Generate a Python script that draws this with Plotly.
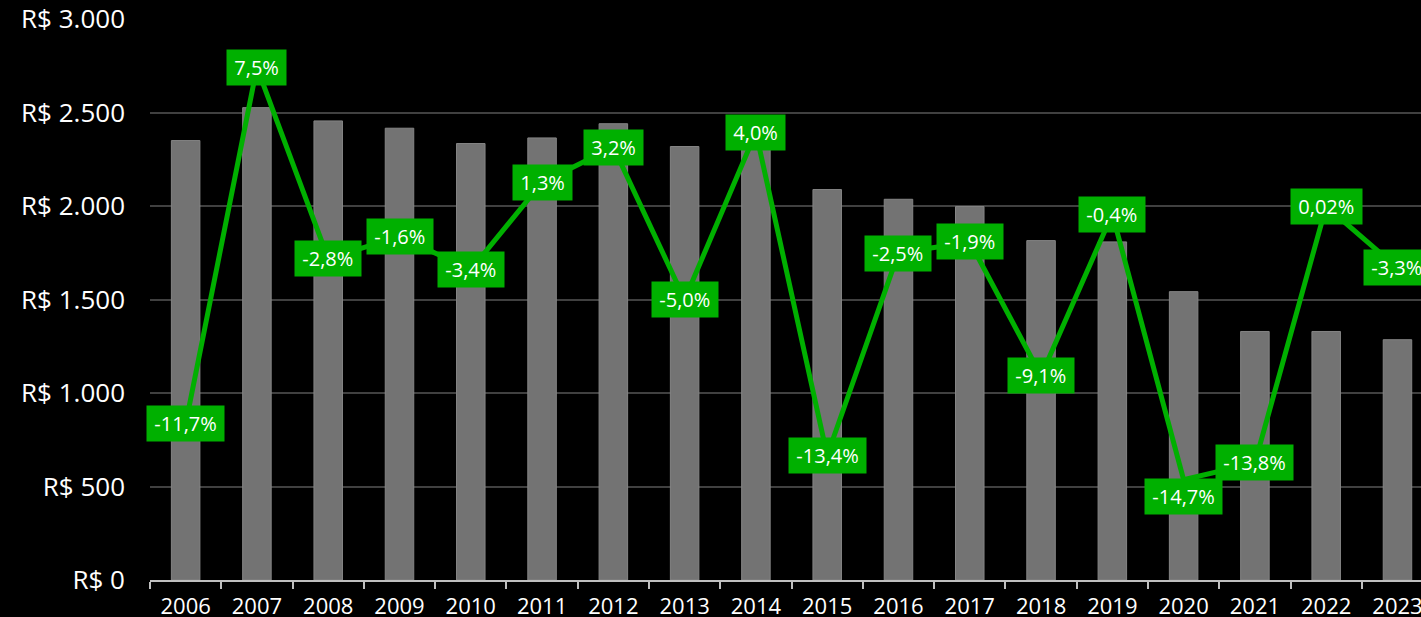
import plotly.graph_objects as go

anos = ['2006', '2007', '2008', '2009', '2010', '2011', '2012', '2013', '2014',
        '2015', '2016', '2017', '2018', '2019', '2020', '2021', '2022', '2023']
valores = [2350, 2526, 2455, 2416, 2334, 2364, 2440, 2318, 2411,
           2088, 2036, 1997, 1815, 1808, 1542, 1329, 1329, 1285]
variacao = [-11.7, 7.5, -2.8, -1.6, -3.4, 1.3, 3.2, -5.0, 4.0,
            -13.4, -2.5, -1.9, -9.1, -0.4, -14.7, -13.8, 0.02, -3.3]
rotulos = ['-11,7%', '7,5%', '-2,8%', '-1,6%', '-3,4%', '1,3%', '3,2%', '-5,0%', '4,0%',
           '-13,4%', '-2,5%', '-1,9%', '-9,1%', '-0,4%', '-14,7%', '-13,8%', '0,02%', '-3,3%']
ticks_y = [0, 500, 1000, 1500, 2000, 2500, 3000]
ticks_y_txt = ['R$ 0', 'R$ 500', 'R$ 1.000', 'R$ 1.500', 'R$ 2.000', 'R$ 2.500', 'R$ 3.000']

verde = '#00b000'
fonte = 'Open Sans'

fig = go.Figure()

fig.add_trace(go.Bar(
    x=anos, y=valores,
    marker=dict(color='#737373', line=dict(color='#858585', width=1)),
    yaxis='y',
))

fig.add_trace(go.Scatter(
    x=anos, y=variacao,
    mode='lines',
    line=dict(color=verde, width=5),
    yaxis='y2',
    cliponaxis=False,
))

# rotulos verdes sobre a linha (x pelo indice da categoria)
for i, (ano, v, txt) in enumerate(zip(anos, variacao, rotulos)):
    fig.add_annotation(
        x=i, y=v, xref='x', yref='y2',
        text='\u2009' + txt + '\u2009',
        showarrow=False,
        bgcolor=verde,
        borderpad=4,
        font=dict(family=fonte, size=20, color='white'),
        yshift=-17 if ano == '2020' else 0,
    )

fig.update_layout(
    template='none',
    width=1421, height=617,
    paper_bgcolor='black',
    plot_bgcolor='black',
    showlegend=False,
    bargap=0.6,
    margin=dict(l=150, r=0, t=19, b=37, pad=0),
    font=dict(family=fonte, color='white'),
    xaxis=dict(
        type='category',
        range=[-0.5, 17.33],
        showgrid=False,
        showline=True, linecolor='#bfbfbf', linewidth=2,
        ticks='outside', tickson='boundaries', ticklen=7, tickcolor='#bfbfbf', tickwidth=2,
        ticklabelstandoff=6,
        tickfont=dict(family=fonte, size=22, color='white'),
        automargin=False,
    ),
    yaxis=dict(
        range=[0, 3000],
        tickvals=ticks_y,
        ticktext=ticks_y_txt,
        showgrid=True, gridcolor='#404040', gridwidth=2,
        zeroline=False, showline=False,
        ticks='', ticklabelstandoff=24,
        ticklabeloverflow='allow',
        tickfont=dict(family=fonte, size=26, color='white'),
        automargin=False,
    ),
    yaxis2=dict(
        range=[-20.1, 10.1],
        overlaying='y',
        side='right',
        showticklabels=False, showgrid=False, zeroline=False, showline=False,
        ticks='',
        automargin=False,
    ),
)

fig.write_html("out.html", config={'displayModeBar': False},
               post_script="document.body.style.margin='0';")
